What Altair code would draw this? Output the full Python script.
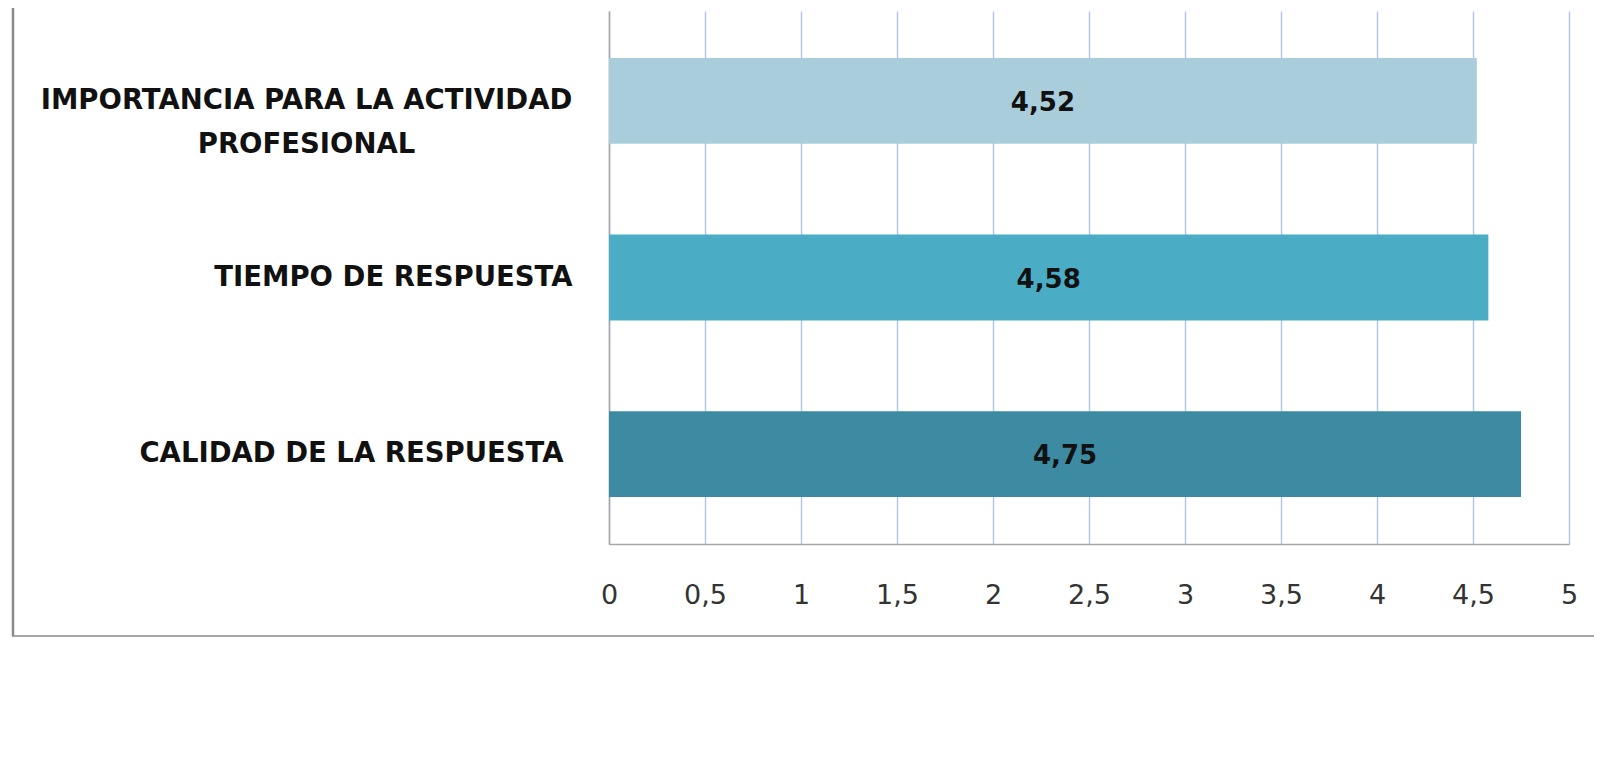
import altair as alt
import pandas as pd

categories = ["IMPORTANCIA PARA LA ACTIVIDAD PROFESIONAL", "TIEMPO DE RESPUESTA", "CALIDAD DE LA RESPUESTA"]
values = [4.52, 4.58, 4.75]
bar_colors = ["#aacddc", "#4bacc6", "#3d8ba2"]
tick_values = [0, 0.5, 1, 1.5, 2, 2.5, 3, 3.5, 4, 4.5, 5]

df = pd.DataFrame({"cat": categories, "value": values})

FONT = "DejaVu Sans"

y_enc = alt.Y(
    "cat:N",
    sort=None,
    title=None,
    scale=alt.Scale(paddingInner=0.514, paddingOuter=0.266),
    axis=alt.Axis(
        ticks=False,
        tickSize=0,
        grid=False,
        domainColor="#a6a6a6",
        domainWidth=1.5,
        labelFont=FONT,
        labelFontWeight="bold",
        labelFontSize=27.5,
        labelColor="#111111",
        labelLineHeight=44,
        labelLimit=1000,
        labelBaseline="middle",
        labelExpr="datum.label == 'IMPORTANCIA PARA LA ACTIVIDAD PROFESIONAL' ? ['IMPORTANCIA PARA LA ACTIVIDAD', 'PROFESIONAL'] : datum.label",
        labelAlign={"condition": {"test": "datum.value == 'IMPORTANCIA PARA LA ACTIVIDAD PROFESIONAL'", "value": "center"}, "value": "right"},
        labelPadding={"condition": [
            {"test": "datum.value == 'IMPORTANCIA PARA LA ACTIVIDAD PROFESIONAL'", "value": 303},
            {"test": "datum.value == 'CALIDAD DE LA RESPUESTA'", "value": 46},
        ], "value": 37},
    ),
)

x_enc = alt.X(
    "value:Q",
    title=None,
    scale=alt.Scale(domain=[0, 5], nice=False),
    axis=alt.Axis(
        values=tick_values,
        ticks=False,
        tickSize=0,
        grid=True,
        gridColor="#b4c8ec",
        gridWidth=1.5,
        domainColor="#a6a6a6",
        domainWidth=1.5,
        labelFont=FONT,
        labelFontSize=27,
        labelColor="#333333",
        labelPadding=38,
        labelExpr="replace(toString(datum.value), '.', ',')",
        labelFlush=False,
    ),
)

bars = alt.Chart(df).mark_bar().encode(
    x=x_enc,
    y=y_enc,
    color=alt.Color("cat:N", scale=alt.Scale(domain=categories, range=bar_colors), legend=None),
)

texts = alt.Chart(df).transform_calculate(
    mid="datum.value / 2",
    lbl="replace(format(datum.value, '.2f'), '.', ',')",
).mark_text(font=FONT, fontWeight="bold", fontSize=26, color="#111111", baseline="middle", align="center", dy=2).encode(
    x=alt.X("mid:Q"),
    y=alt.Y("cat:N", sort=None),
    text="lbl:N",
)

frame_data = alt.Data(values=[{"k": 1}])
left_border = alt.Chart(frame_data).mark_rule(color="#8a8a8a", strokeWidth=2.5).encode(
    x=alt.value(-596), y=alt.value(-11), y2=alt.value(625)
)
bottom_border = alt.Chart(frame_data).mark_rule(color="#8a8a8a", strokeWidth=1.5).encode(
    x=alt.value(-597), x2=alt.value(1040), y=alt.value(625)
)

chart = alt.layer(bars, texts, left_border, bottom_border).properties(
    width=960,
    height=533,
    background="white",
    autosize=alt.AutoSizeParams(type="none"),
    padding={"left": 601, "top": 3, "right": 25, "bottom": 120},
).configure_view(stroke=None)

chart.save("out.html", embed_options={"renderer": "svg", "actions": False})
